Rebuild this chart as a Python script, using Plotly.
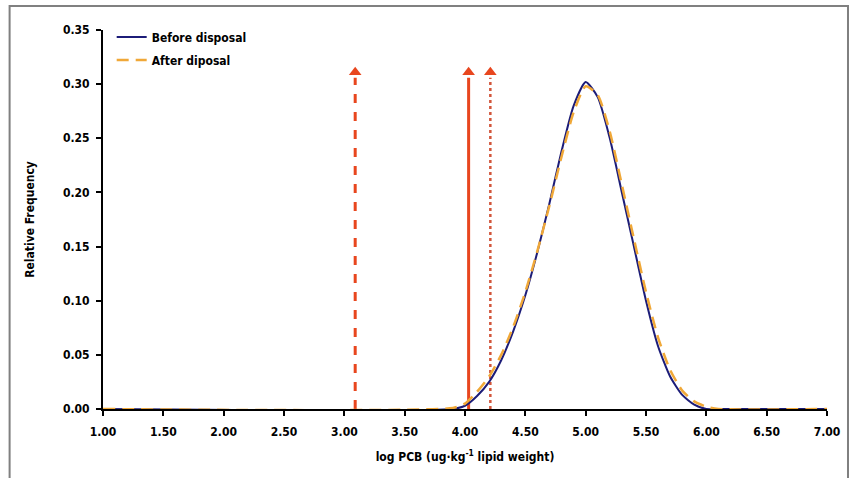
import plotly.graph_objects as go

# ---- data ----
x_before = [1.0, 3.9, 4.0, 4.1, 4.2, 4.3, 4.4, 4.5, 4.6, 4.7, 4.8, 4.9, 5.0,
            5.1, 5.2, 5.3, 5.4, 5.5, 5.6, 5.7, 5.8, 5.9, 6.0, 6.1, 7.0]
y_before = [0.0, 0.0, 0.003, 0.012, 0.025, 0.045, 0.072, 0.105, 0.145, 0.19, 0.238, 0.28, 0.302,
            0.288, 0.25, 0.2, 0.15, 0.1, 0.058, 0.03, 0.013, 0.004, 0.0, 0.0, 0.0]

x_after = [1.0, 3.9, 4.0, 4.1, 4.2, 4.3, 4.4, 4.5, 4.6, 4.7, 4.8, 4.9, 5.0,
           5.1, 5.2, 5.3, 5.4, 5.5, 5.6, 5.7, 5.8, 5.9, 6.0, 6.1, 7.0]
y_after = [0.0, 0.001, 0.005, 0.016, 0.03, 0.05, 0.076, 0.108, 0.146, 0.188, 0.233, 0.274, 0.298,
           0.29, 0.256, 0.207, 0.157, 0.108, 0.066, 0.036, 0.017, 0.007, 0.002, 0.0, 0.0]

arrow_x = [3.09, 4.03, 4.21]
arrow_styles = ["dash", "solid", "dot"]
arrow_top = 0.306

x_ticks = [1.0, 1.5, 2.0, 2.5, 3.0, 3.5, 4.0, 4.5, 5.0, 5.5, 6.0, 6.5, 7.0]
y_ticks = [0.0, 0.05, 0.10, 0.15, 0.20, 0.25, 0.30, 0.35]

ARROW_COLOR = "#E8461E"
FONT = "DejaVu Sans Condensed, DejaVu Sans"

fig = go.Figure()

# arrows (vertical lines with triangle heads)
for ax_, st in zip(arrow_x, arrow_styles):
    fig.add_trace(go.Scatter(
        x=[ax_, ax_], y=[0.0, arrow_top], mode="lines",
        line=dict(color=ARROW_COLOR if st != "dot" else "#D2553A",
                  width=3 if st != "dot" else 2.5, dash=st),
        showlegend=False, hoverinfo="skip"))
    fig.add_trace(go.Scatter(
        x=[ax_], y=[arrow_top + 0.005], mode="markers",
        marker=dict(symbol="triangle-up", size=11, color=ARROW_COLOR),
        showlegend=False, hoverinfo="skip"))

fig.add_trace(go.Scatter(
    x=x_before, y=y_before, mode="lines", name="Before disposal",
    line=dict(color="#1C1C78", width=2, shape="spline", smoothing=0.6),
    legendgroup="a"))
fig.add_trace(go.Scatter(
    x=x_after, y=y_after, mode="lines", name="After diposal",
    line=dict(color="#F0A838", width=2.5, dash="12px,7px", shape="spline", smoothing=0.6),
    legendgroup="b"))

# outer frame (image border)
fig.add_shape(type="rect", xref="paper", yref="paper",
              x0=-0.129, x1=1.029, y0=-0.2, y1=1.063,
              line=dict(color="#808080", width=2), fillcolor="rgba(0,0,0,0)")

tickfont = dict(family=FONT, size=12, color="black", weight="bold")

fig.update_layout(
    width=851, height=478,
    margin=dict(l=103, r=24, t=30, b=69),
    paper_bgcolor="white", plot_bgcolor="white",
    font=dict(family=FONT, color="black"),
    legend=dict(x=0.012, y=1.02, xanchor="left", yanchor="top",
                bgcolor="rgba(0,0,0,0)", font=dict(size=12, family=FONT, weight="bold"),
                tracegroupgap=4, traceorder="grouped", itemwidth=30),
    xaxis=dict(range=[1.0, 7.0], tickvals=x_ticks,
               ticktext=[f"{v:.2f}" for v in x_ticks],
               tickfont=tickfont, ticklabelstandoff=6,
               showgrid=False, zeroline=False, showline=True, linecolor="black", linewidth=2,
               ticks="outside", ticklen=5, tickwidth=2, tickcolor="black",
               title=dict(text="log PCB (ug·kg<sup>-1</sup> lipid weight)",
                          font=dict(size=12, family=FONT, weight=600), standoff=14)),
    yaxis=dict(range=[0.0, 0.35], tickvals=y_ticks,
               ticktext=[f"{v:.2f}" for v in y_ticks],
               tickfont=tickfont, ticklabelstandoff=4,
               showgrid=False, zeroline=False, showline=True, linecolor="black", linewidth=2,
               ticks="outside", ticklen=5, tickwidth=2, tickcolor="black",
               title=dict(text="Relative Frequency",
                          font=dict(size=12, family=FONT, weight=600), standoff=26)),
)

fig.write_html("out.html")
